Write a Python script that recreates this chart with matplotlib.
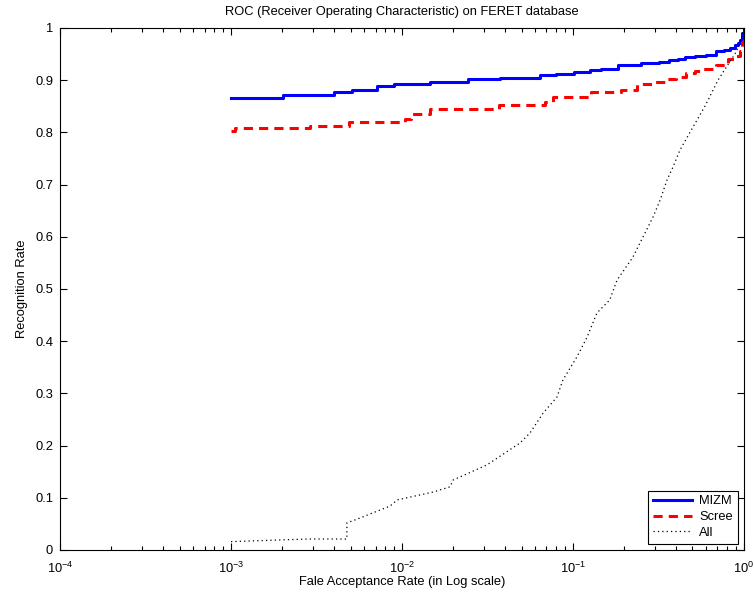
import matplotlib
matplotlib.use('Agg')
import matplotlib.pyplot as plt
from matplotlib.ticker import LogLocator, NullFormatter, FixedLocator

plt.rcParams['font.family'] = ['Liberation Sans', 'DejaVu Sans']
plt.rcParams['mathtext.fontset'] = 'custom'
plt.rcParams['mathtext.rm'] = 'Liberation Sans'
plt.rcParams['mathtext.it'] = 'Liberation Sans'
plt.rcParams['axes.unicode_minus'] = False

# false acceptance rate / recognition rate
mizm_far = [0.001, 0.00201, 0.0040, 0.0051, 0.00714, 0.00898, 0.0146, 0.0243,
            0.0374, 0.0641, 0.08, 0.1014, 0.125, 0.146, 0.183, 0.25, 0.318,
            0.364, 0.41, 0.45, 0.52, 0.600, 0.686, 0.76, 0.828, 0.886, 0.92,
            0.948, 0.98, 1.0]
mizm_rr = [0.865, 0.871, 0.877, 0.881, 0.888, 0.892, 0.896, 0.902,
           0.905, 0.909, 0.912, 0.916, 0.919, 0.922, 0.930, 0.932, 0.935,
           0.938, 0.940, 0.944, 0.946, 0.949, 0.955, 0.958, 0.962, 0.968, 0.971,
           0.977, 0.990, 1.0]

scree_far = [0.001, 0.00105, 0.0029, 0.0049, 0.0104, 0.0113, 0.0146, 0.037,
             0.0686, 0.076, 0.127, 0.191, 0.237, 0.29, 0.345, 0.400, 0.458,
             0.52, 0.575, 0.686, 0.806, 0.88, 0.948, 0.98, 1.0]
scree_rr = [0.803, 0.808, 0.813, 0.819, 0.826, 0.835, 0.845, 0.853,
            0.858, 0.867, 0.877, 0.882, 0.892, 0.897, 0.902, 0.907, 0.913,
            0.917, 0.921, 0.930, 0.940, 0.947, 0.956, 0.974, 0.99]

all_far = [0.001, 0.00282, 0.00476, 0.00476, 0.00546, 0.0065, 0.0085, 0.0094,
           0.0152, 0.0191, 0.0199, 0.0314, 0.049, 0.056, 0.0668, 0.0806,
           0.0874, 0.1055, 0.121, 0.138, 0.164, 0.181, 0.224, 0.257, 0.294,
           0.323, 0.355, 0.385, 0.422, 0.483, 0.591, 0.705, 0.806, 0.885,
           0.948, 1.0]
all_rr = [0.016, 0.021, 0.021, 0.052, 0.059, 0.069, 0.084, 0.096,
          0.111, 0.121, 0.134, 0.163, 0.205, 0.224, 0.262, 0.293,
          0.326, 0.370, 0.408, 0.454, 0.479, 0.517, 0.561, 0.600, 0.638,
          0.670, 0.709, 0.734, 0.766, 0.800, 0.850, 0.900, 0.930, 0.950,
          0.970, 1.0]

fig = plt.figure(figsize=(7.54, 5.98), dpi=100)
ax = fig.add_axes([0.0796, 0.0803, 0.9071, 0.8729])

ax.plot(mizm_far, mizm_rr, color='#0000ff', lw=2.2, drawstyle='steps-post', label='MIZM')
ax.plot(scree_far, scree_rr, color='#ff0000', lw=2.2, ls=(0, (3, 2)),
        drawstyle='steps-post', label='Scree')
ax.plot(all_far, all_rr, color='black', lw=0.9, ls=(0, (1, 2.5)), label='All')

ax.set_xscale('log')
ax.set_xlim(1e-4, 1)
ax.set_ylim(0, 1)
ax.yaxis.set_major_locator(FixedLocator([i / 10 for i in range(11)]))
ax.set_yticklabels(['0', '0.1', '0.2', '0.3', '0.4', '0.5', '0.6', '0.7', '0.8', '0.9', '1'])
ax.xaxis.set_minor_locator(LogLocator(base=10, subs=range(2, 10)))
ax.xaxis.set_minor_formatter(NullFormatter())

ax.tick_params(which='both', direction='in', top=True, right=True, labelsize=9.3,
               width=0.8, color='black')
ax.tick_params(which='major', length=5)
ax.tick_params(which='minor', length=3)
ax.tick_params(axis='x', which='major', pad=8)
ax.tick_params(axis='y', which='major', pad=5)
for s in ax.spines.values():
    s.set_linewidth(0.8)

ax.set_title('ROC (Receiver Operating Characteristic) on FERET database', fontsize=9.3, pad=9)
ax.set_xlabel('Fale Acceptance Rate (in Log scale)', fontsize=9.3, labelpad=0)
ax.set_ylabel('Recognition Rate', fontsize=9.3, labelpad=5)

leg = ax.legend(loc='lower right', fontsize=9.3, fancybox=False, framealpha=1,
                edgecolor='black', borderaxespad=0.5, handlelength=3.0,
                handletextpad=0.6, borderpad=0.35, labelspacing=0.3)
leg.get_frame().set_linewidth(0.8)

fig.savefig('out.png', dpi=100)
